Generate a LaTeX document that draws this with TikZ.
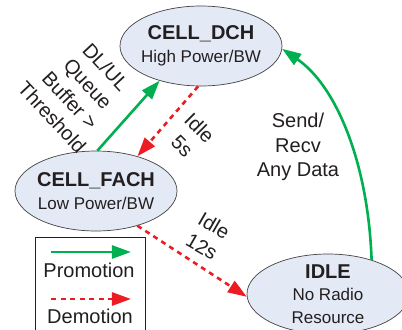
\documentclass[tikz,border=0pt]{standalone}
\usepackage{fontspec}
\setmainfont{Liberation Sans}
\usetikzlibrary{shapes.geometric,arrows.meta}
\definecolor{promo}{RGB}{0,176,80}
\definecolor{demo}{RGB}{237,28,36}
\definecolor{statefill}{RGB}{227,234,246}
\definecolor{ink}{RGB}{35,31,32}
\tikzset{
  state/.style={ellipse, draw=ink!85, line width=0.7bp, fill=statefill,
    minimum width=162bp, minimum height=80bp, inner sep=0pt},
  statetext/.style={align=center, text=ink, font=\fontsize{17bp}{22.5bp}\selectfont},
  lbl/.style={align=center, text=ink, font=\fontsize{20bp}{24.5bp}\selectfont},
  promote/.style={draw=promo, line width=2.6bp, -{Triangle[length=19bp,width=13bp]}},
  demote/.style={draw=demo, line width=2.6bp, dash pattern=on 5bp off 4.5bp,
    -{Triangle[length=19bp,width=13bp]}},
}
\newcommand{\ttl}[1]{{\fontsize{20bp}{22.5bp}\selectfont\bfseries #1}}
\begin{document}
\begin{tikzpicture}[x=1bp,y=-1bp]
\useasboundingbox (0,0) rectangle (402,330);
\fill[white] (0,0) rectangle (402,330);

% radio states
\node[state] (dch) at (201,46) {};
\node[statetext] (dcht) at (dch) {\ttl{CELL\_DCH}\\High Power/BW};
\node[state] (fach) at (96,191) {};
\node[statetext] (facht) at (fach) {\ttl{CELL\_FACH}\\Low Power/BW};
\node[state] (idle) at (328,294) {};
\node[statetext] (idlet) at (idle) {\ttl{IDLE}\\No Radio\\Resource};

% transitions
\draw[promote] (fach.88) -- (dch.220);
\draw[demote] (dch.266) -- (fach.40);
\draw[demote] (fach.-40) -- (idle.182);
\draw[promote] (idle.38) .. controls (368,160) and (335,85) .. (dch.358);

% transition labels
\node[lbl, rotate=-47] (thr) at (79,92) {DL/UL\\Queue\\Buffer >\\Threshold};
\node[lbl, rotate=-45] (i5) at (191,137) {Idle\\5s};
\node[lbl, rotate=-30] (i12) at (208,236) {Idle\\12s};
\node[lbl] (snd) at (298,147) {Send/\\Recv\\Any Data};

% legend
\draw[ink, line width=0.8bp] (35,237) rectangle (145,345);
\coordinate (pa) at (51,252);
\coordinate (pb) at (131,252);
\coordinate (da) at (51,299);
\coordinate (db) at (131,299);
\draw[promote] (pa) -- (pb);
\draw[demote] (da) -- (db);
\node[lbl] (lp) at (89,270) {Promotion};
\node[lbl] (ld) at (90,316) {Demotion};
\end{tikzpicture}
\end{document}
